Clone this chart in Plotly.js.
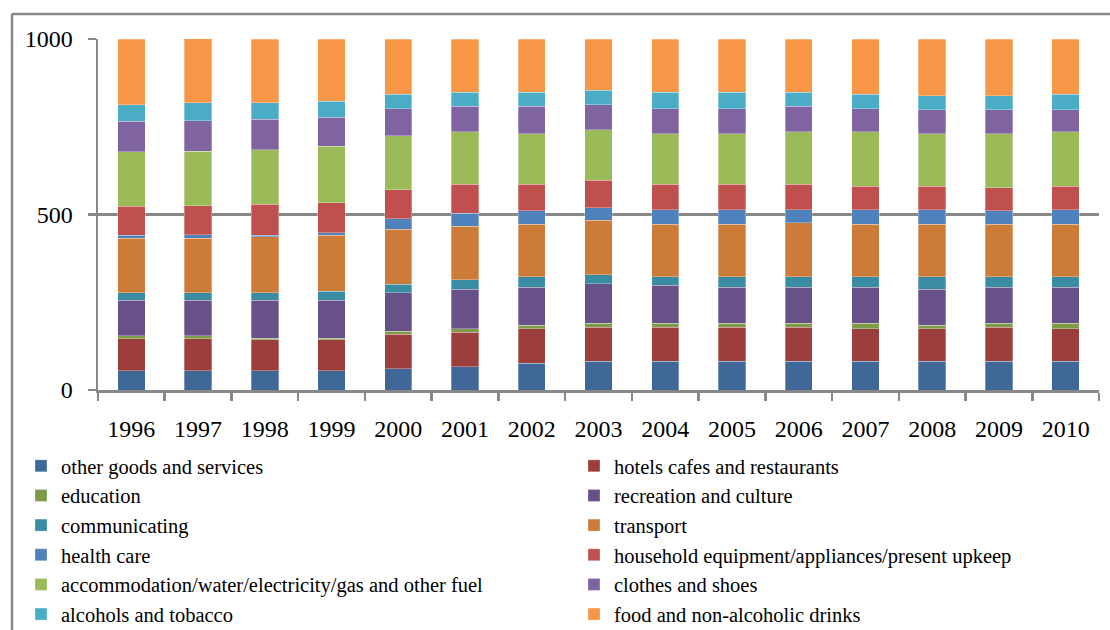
<!DOCTYPE html>
<html>
<head>
<meta charset="utf-8">
<script src="https://cdn.plot.ly/plotly-3.0.1.min.js"></script>
<style>html,body{margin:0;padding:0;background:#fff;}#chart{width:1110px;height:630px;}</style>
</head>
<body>
<div id="chart"></div>
<script>
const years = ["1996","1997","1998","1999","2000","2001","2002","2003","2004","2005","2006","2007","2008","2009","2010"];

const otherGoods     = [55, 55, 55, 55, 61, 66, 76, 82, 82, 82, 82, 82, 82, 82, 82];
const hotels         = [91, 91, 88, 88, 98, 98, 98, 97, 97, 97, 97, 92, 92, 97, 92];
const education      = [8, 8, 5, 5, 9, 10, 11, 11, 11, 11, 11, 16, 11, 11, 16];
const recreation     = [102, 102, 108, 108, 109, 113, 108, 113, 108, 103, 103, 103, 102, 103, 103];
const communicating  = [21, 21, 21, 25, 25, 27, 30, 26, 25, 30, 30, 30, 36, 30, 30];
const transport      = [155, 155, 159, 160, 156, 153, 149, 154, 149, 149, 154, 149, 149, 149, 149];
const healthCare     = [9, 10, 5, 7, 30, 37, 38, 36, 42, 42, 37, 42, 42, 38, 42];
const household      = [83, 83, 88, 86, 82, 82, 76, 78, 72, 72, 72, 67, 67, 66, 67];
const accommodation  = [155, 155, 155, 160, 155, 150, 144, 144, 144, 144, 150, 155, 149, 154, 155];
const clothes        = [87, 87, 88, 83, 77, 72, 78, 71, 72, 72, 72, 66, 68, 68, 62];
const alcohol        = [46, 52, 46, 45, 40, 41, 41, 42, 47, 47, 41, 41, 40, 40, 45];
const food           = [188, 182, 182, 178, 158, 151, 151, 146, 151, 151, 151, 157, 162, 162, 157];

const seriesNames = [
  "other goods and services", "hotels cafes and restaurants",
  "education", "recreation and culture",
  "communicating", "transport",
  "health care", "household equipment/appliances/present upkeep",
  "accommodation/water/electricity/gas and other fuel", "clothes and shoes",
  "alcohols and tobacco", "food and non-alcoholic drinks"
];
const seriesValues = [otherGoods, hotels, education, recreation, communicating, transport,
  healthCare, household, accommodation, clothes, alcohol, food];
const seriesColors = ["#3F6899", "#9C3F3C", "#7F9A48", "#685088", "#3A8CA2", "#CC7B38",
  "#4F81BD", "#C0504D", "#9BBB59", "#8064A2", "#4BACC6", "#F79646"];

const traces = seriesNames.map((n, i) => ({
  type: "bar",
  name: n,
  x: years,
  y: seriesValues[i],
  legend: (i % 2 === 0) ? "legend" : "legend2",
  marker: {color: seriesColors[i], line: {color: "rgba(255,255,255,0.5)", width: 0.6}},
  hoverinfo: "x+y+name"
}));

const gridCol = "#888888";
const legendFont = {size: 20.5, family: "Liberation Serif, serif", color: "#000"};
const layout = {
  width: 1110, height: 630,
  barmode: "stack",
  bargap: 0.59,
  paper_bgcolor: "#ffffff",
  plot_bgcolor: "#ffffff",
  margin: {l: 98, r: 11, t: 39, b: 240, autoexpand: false},
  font: {family: "Liberation Serif, Times New Roman, serif", size: 24, color: "#000"},
  xaxis: {
    type: "category",
    showline: true, linecolor: gridCol, linewidth: 2.5,
    ticks: "outside", tickson: "boundaries", ticklen: 8, tickwidth: 2.5, tickcolor: gridCol,
    ticklabelstandoff: 16,
    showgrid: false, zeroline: false,
    tickfont: {size: 24, family: "Liberation Serif, serif"}
  },
  yaxis: {
    range: [0, 1000],
    tickvals: [0, 500, 1000],
    ticktext: ["0", "500", "1000"],
    showline: true, linecolor: gridCol, linewidth: 2.5,
    ticks: "outside", ticklen: 8, tickwidth: 2.5, tickcolor: gridCol,
    ticklabelstandoff: 10,
    showgrid: true, gridcolor: gridCol, gridwidth: 2.5,
    zeroline: false,
    tickfont: {size: 24, family: "Liberation Serif, serif"}
  },
  showlegend: true,
  legend: {
    orientation: "v", traceorder: "normal",
    x: -0.0769, xanchor: "left",
    y: -0.1595, yanchor: "top",
    font: legendFont,
    bgcolor: "rgba(0,0,0,0)"
  },
  legend2: {
    orientation: "v", traceorder: "normal",
    x: 0.4755, xanchor: "left",
    y: -0.1595, yanchor: "top",
    font: legendFont,
    bgcolor: "rgba(0,0,0,0)"
  },
  shapes: [
    {type: "line", xref: "paper", yref: "paper", x0: -0.0859, x1: 1.02, y0: 1.071, y1: 1.071,
     line: {color: gridCol, width: 2.5}},
    {type: "line", xref: "paper", yref: "paper", x0: -0.0859, x1: -0.0859, y0: 1.071, y1: -0.75,
     line: {color: gridCol, width: 2.5}}
  ]
};

Plotly.newPlot("chart", traces, layout, {displayModeBar: false, staticPlot: true});
</script>
</body>
</html>
